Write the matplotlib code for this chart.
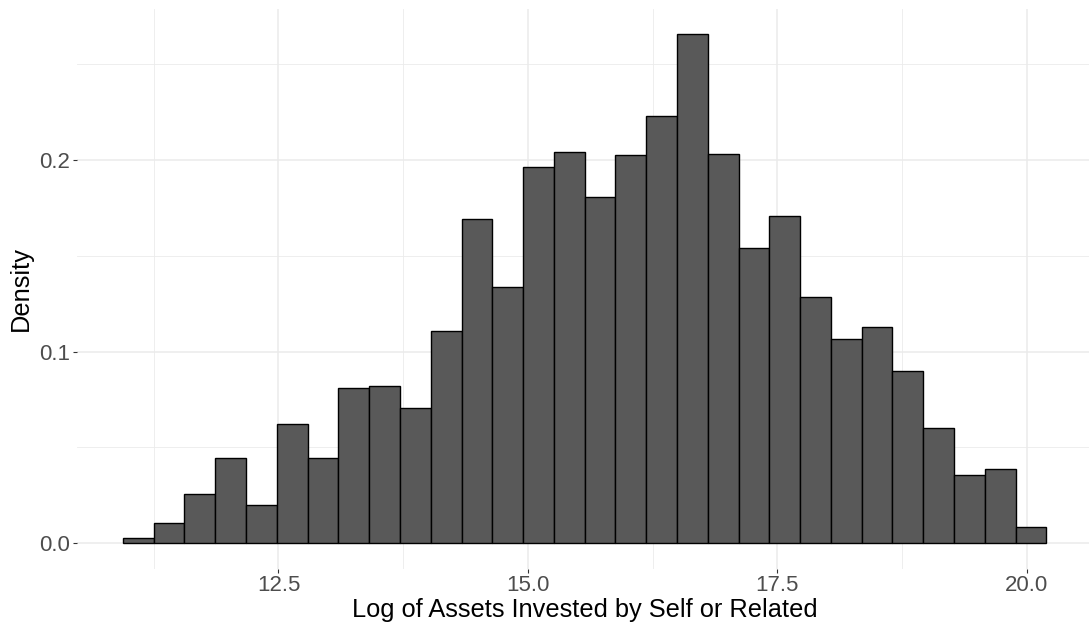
import numpy as np
import matplotlib.pyplot as plt
from matplotlib.ticker import FormatStrFormatter

plt.rcParams['font.family'] = ['Liberation Sans', 'DejaVu Sans']

# -----------------------------
# Histogram data
# -----------------------------
bin_start = 10.941
bin_end = 20.196
n_bins = 30
density = [0.0028, 0.0106, 0.0256, 0.0442, 0.0200, 0.0623, 0.0442, 0.0808,
           0.0819, 0.0707, 0.1106, 0.1691, 0.1339, 0.1964, 0.2041, 0.1808,
           0.2027, 0.2229, 0.2658, 0.2034, 0.1543, 0.1707, 0.1287, 0.1067,
           0.1129, 0.0897, 0.0599, 0.0357, 0.0387, 0.0084]
x_ticks = [12.5, 15.0, 17.5, 20.0]
y_ticks = [0.0, 0.1, 0.2]

edges = np.linspace(bin_start, bin_end, n_bins + 1)
width = edges[1] - edges[0]

# -----------------------------
# Plot
# -----------------------------
W, H = 1089, 622
fig = plt.figure(figsize=(W / 100, H / 100), dpi=100)
left_px, right_px, top_px, bottom_px = 76.7, 1092.6, 8.8, 568.5
ax = fig.add_axes([left_px / W, 1 - bottom_px / H,
                   (right_px - left_px) / W, (bottom_px - top_px) / H])

ax.bar(edges[:-1], density, width=width, align='edge',
       color='#595959', edgecolor='black', linewidth=1.0, zorder=3)

# ggplot-style 5% expansion
xr = bin_end - bin_start
ax.set_xlim(bin_start - 0.05 * xr, bin_end + 0.05 * xr)
ymax = max(density)
ax.set_ylim(-0.05 * ymax, ymax * 1.05)

ax.set_xticks(x_ticks)
ax.set_xticks([11.25, 13.75, 16.25, 18.75], minor=True)
ax.set_yticks(y_ticks)
ax.set_yticks([0.05, 0.15, 0.25], minor=True)
ax.xaxis.set_major_formatter(FormatStrFormatter('%.1f'))
ax.yaxis.set_major_formatter(FormatStrFormatter('%.1f'))

# -----------------------------
# Formatting (theme_minimal look)
# -----------------------------
for s in ax.spines.values():
    s.set_visible(False)
ax.grid(which='major', color='#EBEBEB', linewidth=1.1, zorder=0)
ax.grid(which='minor', color='#EBEBEB', linewidth=0.6, zorder=0)
ax.tick_params(which='major', length=3, width=0.8, color='#333333',
               labelsize=16, labelcolor='#4D4D4D', pad=2)
ax.tick_params(which='minor', length=0)

ax.set_xlabel("Log of Assets Invested by Self or Related", fontsize=18.3,
              color='black', labelpad=1)
ax.set_ylabel("Density", fontsize=18.3, color='black', labelpad=4)

fig.savefig('out.png', dpi=100)
